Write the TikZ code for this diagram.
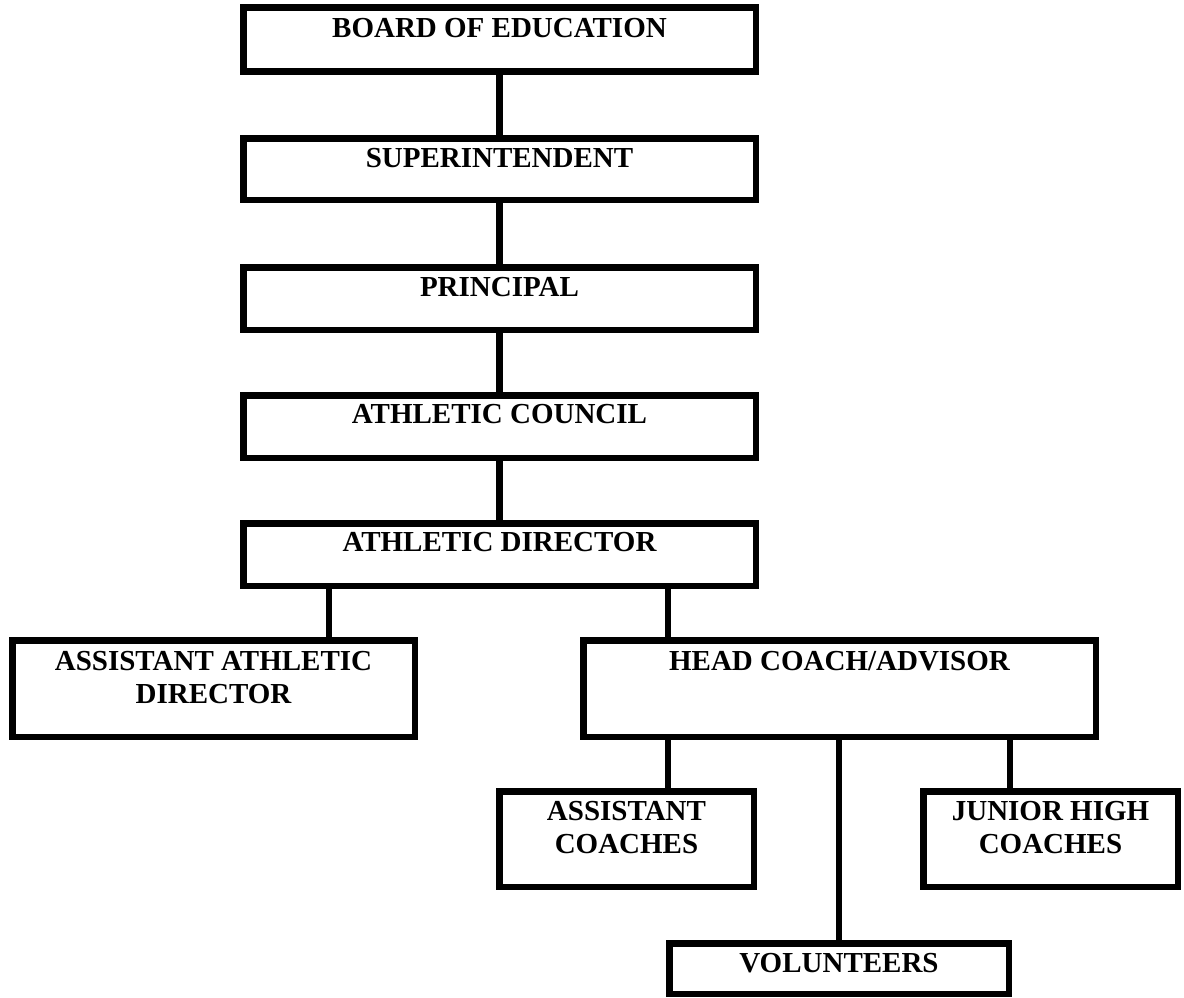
\documentclass[tikz,border=0pt]{standalone}
\usepackage{fontspec}
\setmainfont{Liberation Serif}
\begin{document}
\begin{tikzpicture}[x=1pt,y=-1pt,
  box/.style={draw=black, line width=6.5pt, rectangle, inner sep=0pt},
  lbl/.style={font=\fontsize{29}{33}\selectfont\bfseries, align=center, inner sep=0pt, anchor=base},
  conn/.style={draw=black, line width=6.5pt}]
\useasboundingbox (0,0) rectangle (1184,998);
% boxes
\node[box, minimum width=512.5pt, minimum height=64pt]   (board) at (499.5,39.75) {};
\node[box, minimum width=512.5pt, minimum height=61.5pt] (super) at (499.5,169) {};
\node[box, minimum width=512.5pt, minimum height=62.5pt] (princ) at (499.5,298.5) {};
\node[box, minimum width=512.5pt, minimum height=62.5pt] (counc) at (499.5,426.5) {};
\node[box, minimum width=512.5pt, minimum height=62.5pt] (direc) at (499.5,554.5) {};
\node[box, minimum width=402.5pt, minimum height=96.5pt] (aad)   at (213.5,688.5) {};
\node[box, minimum width=512.5pt, minimum height=96.5pt] (head)  at (839.5,688.5) {};
\node[box, minimum width=254.5pt, minimum height=95.5pt] (ac)    at (626.5,839) {};
\node[box, minimum width=254.5pt, minimum height=95.5pt] (jh)    at (1050.5,839) {};
\node[box, minimum width=339.5pt, minimum height=50.5pt] (vol)   at (839,968.5) {};
% labels (base = baseline of the last line)
\node[lbl] (tboard) at (499.5,38)  {BOARD OF EDUCATION};
\node[lbl] (tsuper) at (499.5,167) {SUPERINTENDENT};
\node[lbl] (tprinc) at (499.5,296) {PRINCIPAL};
\node[lbl] (tcounc) at (499.5,423) {ATHLETIC COUNCIL};
\node[lbl] (tdirec) at (499.5,551) {ATHLETIC DIRECTOR};
\node[lbl] (taad)   at (213.5,703) {ASSISTANT ATHLETIC\\DIRECTOR};
\node[lbl] (thead)  at (839.5,670) {HEAD COACH/ADVISOR};
\node[lbl] (tac)    at (626.5,853) {ASSISTANT\\COACHES};
\node[lbl] (tjh)    at (1050.5,853) {JUNIOR HIGH\\COACHES};
\node[lbl] (tvol)   at (839,972)   {VOLUNTEERS};
% connector columns
\coordinate (xl) at (329,0);
\coordinate (xr) at (668,0);
\coordinate (xj) at (1010,0);
% connectors
\draw[conn] (board.south) -- (super.north);
\draw[conn] (super.south) -- (princ.north);
\draw[conn] (princ.south) -- (counc.north);
\draw[conn] (counc.south) -- (direc.north);
\draw[conn] (xl |- direc.south) -- (xl |- aad.north);
\draw[conn] (xr |- direc.south) -- (xr |- head.north);
\draw[conn] (xr |- head.south) -- (xr |- ac.north);
\draw[conn] (vol.north |- head.south) -- (vol.north);
\draw[conn] (xj |- head.south) -- (xj |- jh.north);
\end{tikzpicture}
\end{document}
